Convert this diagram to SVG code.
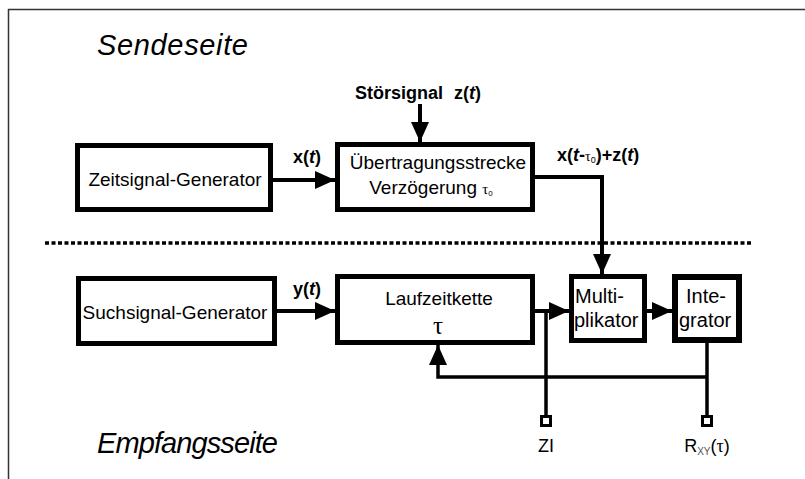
<svg xmlns="http://www.w3.org/2000/svg" width="805" height="479" viewBox="0 0 805 479">
<defs>
<style>
.box{fill:#fff;stroke:#000;stroke-width:5}
.ln{fill:none;stroke:#000;stroke-width:4}
.fb{fill:none;stroke:#000;stroke-width:3.5}
.t{font-family:"Liberation Sans",Arial,sans-serif;font-size:19px;fill:#000}
.b{font-family:"Liberation Sans",Arial,sans-serif;font-size:18px;font-weight:bold;fill:#000}
.side{font-family:"Liberation Sans",Arial,sans-serif;font-size:29px;font-style:italic;fill:#000}
.tau{font-family:"Liberation Serif","Times New Roman",serif}
.term{fill:#fff;stroke:#000;stroke-width:3}
</style>
<marker id="ah" viewBox="0 0 20 18" refX="20" refY="9" markerWidth="20" markerHeight="18" markerUnits="userSpaceOnUse" orient="auto">
<path d="M0,0 L20,9 L0,18 z" fill="#000"/>
</marker>
</defs>
<rect width="805" height="479" fill="#fff"/>
<path d="M8,9.5 H805 M8.5,9 V479" stroke="#333" stroke-width="1.5" fill="none"/>
<text class="side" x="97" y="55" textLength="151">Sendeseite</text>
<text class="side" x="97" y="453" textLength="181">Empfangsseite</text>
<line x1="45" y1="243" x2="752" y2="243" stroke="#000" stroke-width="3.5" stroke-dasharray="4 2.5"/>
<g id="connectors">
<line class="ln" x1="273" y1="180" x2="335" y2="180" marker-end="url(#ah)"/>
<line class="ln" x1="420" y1="104" x2="420" y2="142" marker-end="url(#ah)"/>
<polyline class="ln" points="535,177 602,177 602,274" marker-end="url(#ah)"/>
<line class="ln" x1="277" y1="311" x2="335" y2="311" marker-end="url(#ah)"/>
<line class="ln" x1="535" y1="311" x2="569" y2="311" marker-end="url(#ah)"/>
<line class="ln" x1="647" y1="311" x2="672" y2="311" marker-end="url(#ah)"/>
<line class="fb" x1="546" y1="311" x2="546" y2="416"/>
<line class="fb" x1="707" y1="343" x2="707" y2="416"/>
<polyline class="fb" points="707,377 438,377 438,345" marker-end="url(#ah)"/>
<rect class="term" x="541.5" y="416.5" width="9" height="9"/>
<rect class="term" x="702.5" y="416.5" width="9" height="9"/>
</g>
<g id="zeitsignal">
<rect class="box" x="77.5" y="145.5" width="193" height="64"/>
<text class="t" x="175" y="186" text-anchor="middle">Zeitsignal-Generator</text>
</g>
<g id="uebertragung">
<rect class="box" x="337.5" y="144.5" width="195" height="65"/>
<text class="t" x="438" y="169" text-anchor="middle">Übertragungsstrecke</text>
<text class="t" x="431" y="194" text-anchor="middle">Verzögerung <tspan class="tau" font-size="15">τ</tspan><tspan font-size="8" dy="2">0</tspan></text>
</g>
<g id="suchsignal">
<rect class="box" x="78.5" y="278.5" width="196" height="65"/>
<text class="t" x="175" y="319" text-anchor="middle">Suchsignal-Generator</text>
</g>
<g id="laufzeitkette">
<rect class="box" x="337.5" y="276.5" width="195" height="66"/>
<text class="t" x="439" y="305" text-anchor="middle">Laufzeitkette</text>
<text class="t tau" x="438" y="334" text-anchor="middle" style="font-size:25px">τ</text>
</g>
<g id="multiplikator">
<rect class="box" x="571.5" y="276.5" width="73" height="64"/>
<text class="t" x="575" y="303" style="font-size:20px">Multi-</text>
<text class="t" x="574" y="327" style="font-size:20px">plikator</text>
</g>
<g id="integrator">
<rect class="box" x="675" y="277" width="64" height="63" style="stroke-width:6"/>
<text class="t" x="686" y="303" style="font-size:20px">Inte-</text>
<text class="t" x="679" y="327" style="font-size:20px">grator</text>
</g>
<g id="labels">
<text class="b" x="293" y="163">x(<tspan font-style="italic">t</tspan>)</text>
<text class="b" x="293" y="295">y(<tspan font-style="italic">t</tspan>)</text>
<text class="b" x="355" y="99">Störsignal <tspan x="454">z(</tspan><tspan font-style="italic">t</tspan>)</text>
<text class="b" x="557" y="161">x(<tspan font-style="italic">t</tspan>-<tspan class="tau" font-weight="normal" font-size="14">τ</tspan><tspan font-size="9" font-weight="normal" dy="2">0</tspan><tspan dy="-2">)+z(</tspan><tspan font-style="italic">t</tspan>)</text>
<text class="t" x="546" y="452" text-anchor="middle" style="font-size:18px">ZI</text>
<text class="t" x="707" y="452" text-anchor="middle" style="font-size:18px">R<tspan font-size="10" dy="3" fill="#555">XY</tspan><tspan dy="-3">(</tspan><tspan class="tau">τ</tspan>)</text>
</g>
</svg>
